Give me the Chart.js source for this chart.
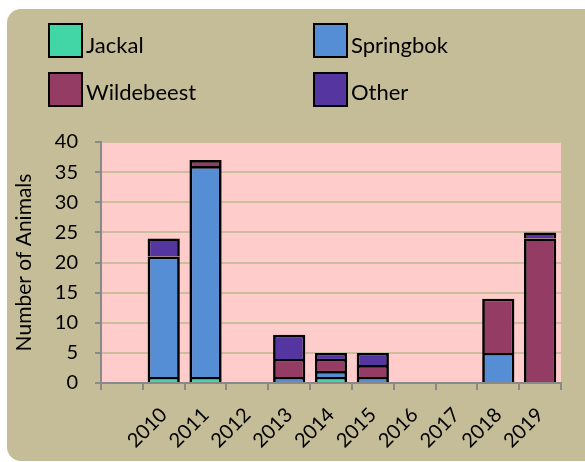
<!DOCTYPE html>
<html>
<head>
<meta charset="utf-8">
<script src="https://cdn.jsdelivr.net/npm/chart.js@4"></script>
<style>
    body { margin: 0; background: #fff; }
    #wrap { position: relative; width: 585px; height: 462px; font-family: Lato, sans-serif; }
    #chart { position: absolute; left: 0; top: 0; }
    .key { position: absolute; width: 35px; height: 35px; box-sizing: border-box; border: 2px solid #000; }
    .lbl { position: absolute; font-size: 22px; color: #000; white-space: nowrap; }
</style>
</head>
<body>
<div id="wrap">
    <canvas id="chart" width="585" height="462"></canvas>
    <div class="key" style="left:48px;top:23px;background:#42D6A6"></div>
    <div class="lbl" style="left:86px;top:31px">Jackal</div>
    <div class="key" style="left:313px;top:23px;background:#558ED5"></div>
    <div class="lbl" style="left:351px;top:31px">Springbok</div>
    <div class="key" style="left:48px;top:72px;background:#943C64"></div>
    <div class="lbl" style="left:86px;top:78px">Wildebeest</div>
    <div class="key" style="left:313px;top:72px;background:#55359F"></div>
    <div class="lbl" style="left:351px;top:78px">Other</div>
</div>
<script>
// categories (first slot is empty in the original)
const years = ['', '2010', '2011', '2012', '2013', '2014', '2015', '2016', '2017', '2018', '2019'];

// animals per year
const jackal     = [0, 1, 1, 0, 0, 1, 0, 0, 0, 0, 0];
const springbok  = [0, 20, 35, 0, 1, 1, 1, 0, 0, 5, 0];
const wildebeest = [0, 0, 1, 0, 3, 2, 2, 0, 0, 9, 24];
const other      = [0, 3, 0, 0, 4, 1, 2, 0, 0, 0, 1];

const yTicks = [0, 5, 10, 15, 20, 25, 30, 35, 40];

// panel + pink plot area
const backdrop = {
    id: 'backdrop',
    beforeDraw(chart) {
        const ctx = chart.ctx;
        const a = chart.chartArea;
        ctx.save();
        ctx.fillStyle = '#ffffff';
        ctx.fillRect(0, 0, chart.width, chart.height);
        ctx.fillStyle = '#C4BD97';
        ctx.beginPath();
        ctx.roundRect(7, 9, 620, 452, 14);
        ctx.fill();
        ctx.fillStyle = '#FFCCCC';
        ctx.fillRect(a.left, a.top, a.right - a.left, a.bottom - a.top);
        ctx.restore();
    }
};

function makeSet(label, data, color) {
    return {
        label: label,
        data: data,
        backgroundColor: color,
        borderColor: '#000',
        borderWidth: 2.7,
        borderSkipped: 'bottom',
        barPercentage: 0.77,
        categoryPercentage: 1
    };
}

function draw() {
    Chart.defaults.font.family = 'Lato, sans-serif';
    Chart.defaults.color = '#000';

    new Chart(document.getElementById('chart'), {
        type: 'bar',
        data: {
            labels: years,
            datasets: [
                makeSet('Jackal', jackal, '#42D6A6'),
                makeSet('Springbok', springbok, '#558ED5'),
                makeSet('Wildebeest', wildebeest, '#943C64'),
                makeSet('Other', other, '#55359F')
            ]
        },
        options: {
            responsive: false,
            animation: false,
            layout: { padding: { top: 142, right: 24, left: 0, bottom: 0 } },
            plugins: {
                legend: { display: false },
                tooltip: { enabled: false }
            },
            scales: {
                x: {
                    stacked: true,
                    z: 1,
                    afterFit: s => { s.height = 79; },
                    grid: {
                        drawOnChartArea: false,
                        color: '#898989',
                        tickColor: '#898989',
                        lineWidth: 2,
                        tickLength: 7
                    },
                    border: { color: '#898989', width: 2 },
                    ticks: {
                        minRotation: 45,
                        maxRotation: 45,
                        padding: 13,
                        font: { size: 20 }
                    }
                },
                y: {
                    stacked: true,
                    min: 0,
                    max: 40,
                    afterFit: s => { s.width = 101; },
                    afterBuildTicks: s => { s.ticks = yTicks.map(v => ({ value: v })); },
                    grid: {
                        color: '#CBBE9C',
                        tickColor: '#898989',
                        lineWidth: 2,
                        tickLength: 6
                    },
                    border: { color: '#898989', width: 2 },
                    ticks: {
                        padding: 17,
                        font: { size: 20 }
                    },
                    title: {
                        display: true,
                        text: 'Number of Animals',
                        font: { size: 21 },
                        padding: { top: 12, bottom: 0 }
                    }
                }
            }
        },
        plugins: [backdrop]
    });
}

if (document.fonts && document.fonts.load) {
    document.fonts.load('20px Lato').then(draw, draw);
} else {
    draw();
}
</script>
</body>
</html>
